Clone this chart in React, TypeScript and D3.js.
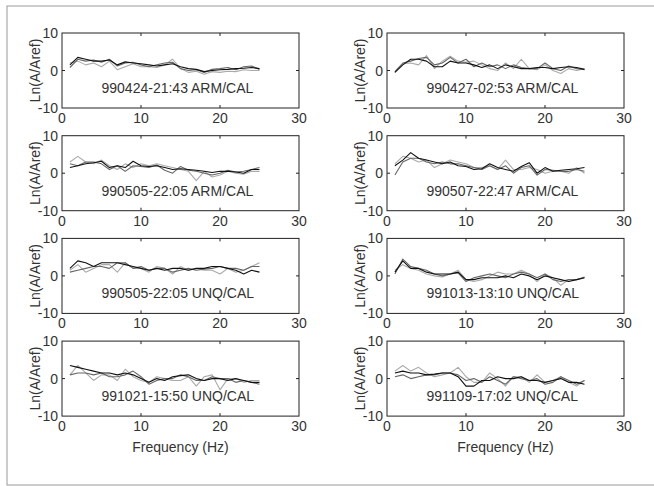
import React from "react";
import * as d3 from "d3";

const freq = d3.range(1, 26);

const titles = [
  "990424-21:43 ARM/CAL",
  "990427-02:53 ARM/CAL",
  "990505-22:05 ARM/CAL",
  "990507-22:47 ARM/CAL",
  "990505-22:05 UNQ/CAL",
  "991013-13:10 UNQ/CAL",
  "991021-15:50 UNQ/CAL",
  "991109-17:02 UNQ/CAL",
];

const xTicks = [0, 10, 20, 30];
const yTicks = [-10, 0, 10];

// each panel: [black, dark gray, light gray]
const p1 = [
  [1.5, 3.5, 3.0, 2.5, 2.5, 2.8, 1.5, 2.3, 2.0, 1.8, 1.5, 1.2, 1.5, 1.8, 1.0, 0.5, 0.3, -0.3, 0.0, 0.2, 0.3, 0.5, 0.6, 0.8, 0.5],
  [0.8, 3.0, 2.5, 2.8, 2.2, 3.0, 1.2, 2.0, 2.2, 1.5, 1.0, 1.5, 2.0, 2.2, 0.5, 0.0, 0.2, -0.5, 0.3, 0.5, 0.8, 0.2, 1.0, 1.2, 0.3],
  [2.0, 2.5, 1.5, 2.0, 1.0, 2.5, 0.2, 1.0, 1.8, 1.0, 1.0, 0.8, 1.5, 3.0, 0.5, -0.5, -0.2, -1.0, -0.3, -0.5, -0.2, -0.3, 0.2, 0.0, 0.0],
];
const p2 = [
  [-0.5, 1.5, 3.0, 3.0, 2.5, 1.0, 1.0, 2.5, 2.0, 2.0, 1.5, 0.8, 1.5, 0.5, 1.5, 1.0, 0.5, 0.5, 0.8, 0.8, 0.5, 0.8, 1.0, 0.8, 0.3],
  [-0.3, 2.0, 2.5, 3.2, 3.5, 1.5, 2.0, 3.5, 2.0, 3.0, 1.0, 2.0, 1.0, 1.5, 0.5, 1.5, 0.8, 0.5, 0.5, 2.0, 0.5, 0.0, 1.2, 0.5, 0.2],
  [-0.5, 1.8, 2.0, 1.5, 4.0, 0.5, 2.5, 3.8, 2.5, 2.2, 2.5, 1.5, 0.5, 0.0, 2.0, 0.5, 3.0, 0.5, 0.2, 1.5, 0.0, -0.8, 0.5, 0.0, 0.5],
];
const p3 = [
  [1.5, 2.0, 2.5, 2.8, 3.2, 1.5, 2.0, 1.5, 3.2, 2.0, 1.8, 2.0, 1.5, 1.0, 1.2, 1.0, 0.8, 0.5, 0.2, 0.5, 0.5, 0.3, 0.0, 1.0, 1.0],
  [2.5, 2.0, 3.0, 3.0, 2.5, 1.0, 2.0, 0.5, 2.0, 1.8, 1.5, 2.2, 0.8, 0.0, 1.8, 0.8, 0.5, 0.0, -0.5, 0.0, 0.8, 0.3, 0.5, 1.0, 1.5],
  [3.0, 4.5, 3.0, 2.5, 3.5, 2.0, 1.0, 2.5, 1.5, 2.5, 2.0, 2.5, 2.0, 1.5, 1.0, 0.5, -2.0, 0.5, -1.0, -0.5, 0.5, 0.0, -0.3, 0.5, 0.5],
];
const p4 = [
  [2.0, 3.5, 5.5, 4.0, 3.5, 3.0, 2.5, 3.0, 2.0, 1.8, 1.0, 1.2, 2.5, 1.5, 1.0, 0.5, 1.8, 2.8, 0.0, 1.5, 0.5, 0.8, 1.0, 1.2, 1.5],
  [-0.5, 3.0, 4.0, 4.0, 3.0, 2.5, 3.0, 2.5, 2.5, 2.0, 1.5, 1.0, 2.0, 1.0, 2.0, 0.0, 1.5, 2.0, -0.5, 1.0, 0.8, 0.5, 0.5, 1.0, 0.5],
  [2.5, 4.5, 4.0, 3.0, 3.5, 1.5, 2.5, 3.5, 3.0, 2.5, 1.5, 1.5, 2.0, 1.0, 3.5, 1.0, 1.0, 1.5, 1.0, 0.0, 0.5, 0.5, 0.0, 1.5, 0.0],
];
const p5 = [
  [2.0, 4.0, 3.5, 2.5, 3.5, 3.5, 3.5, 3.0, 2.5, 2.0, 1.5, 2.0, 1.5, 2.0, 2.0, 1.5, 2.0, 2.0, 2.5, 2.5, 2.0, 1.5, 0.5, 1.5, 1.0],
  [1.0, 1.5, 2.0, 2.5, 2.5, 2.0, 3.5, 3.5, 2.0, 2.5, 1.5, 2.0, 2.0, 1.0, 1.5, 2.0, 1.5, 1.8, 2.0, 2.5, 2.0, 2.0, 1.5, 2.5, 2.5],
  [1.5, 3.0, 1.0, 2.0, 3.0, 3.0, 1.0, 3.5, 2.0, 2.0, 1.0, 2.5, 2.0, 0.5, 2.5, 1.5, 2.0, 1.5, 1.5, 0.5, 2.0, 1.0, 1.5, 2.5, 3.5],
];
const p6 = [
  [1.0, 4.0, 2.0, 2.0, 1.0, 0.5, 0.5, 0.5, 1.0, -1.0, -1.0, -0.5, -0.5, -0.5, 0.0, -0.5, 0.5, 0.0, -1.0, 0.0, -0.5, -1.0, -1.5, -1.0, -0.5],
  [0.5, 4.5, 2.5, 2.0, 1.5, 0.5, 0.0, 0.5, 0.8, -1.5, -0.5, 0.0, 0.5, 0.0, -0.5, 0.5, 1.0, 0.5, -0.5, 0.5, -1.0, -1.5, -1.0, -1.0, -0.3],
  [1.5, 3.0, 2.0, 1.5, 0.5, 0.0, -0.3, 0.5, 1.5, -1.0, -1.5, -1.0, 0.0, 1.0, 0.5, 0.5, 1.5, 0.5, -1.5, 0.5, -0.5, -2.5, -1.0, -1.0, -0.5],
];
const p7 = [
  [3.5, 3.0, 2.5, 2.0, 1.5, 1.5, 1.0, 1.5, 1.0, 0.0, -1.0, 0.0, -0.5, 0.5, 0.8, 1.0, 0.0, -0.5, 0.0, 0.0, -0.5, 0.0, -0.5, -1.0, -1.0],
  [1.0, 1.5, 1.5, 1.0, 1.5, 0.5, 0.5, 1.0, 2.0, 0.5, -1.5, -0.5, 0.0, 0.0, 1.0, 0.5, -0.5, -0.5, 0.5, 0.0, 0.0, -1.0, -0.5, -1.0, -1.5],
  [1.0, 3.5, 1.5, -0.5, 1.0, 1.0, -0.5, 2.5, 0.5, -0.5, -1.0, 0.5, 0.0, -0.5, -0.5, 0.5, -2.0, 0.5, 1.0, -3.0, 0.0, 0.0, -1.0, -0.5, -0.5],
];
const p8 = [
  [1.5, 2.0, 1.5, 1.5, 1.0, 1.2, 1.5, 1.5, 0.5, -2.0, -2.0, -0.5, -0.5, 0.5, 0.0, 0.0, 0.5, -0.5, -0.5, -1.0, -0.5, 0.0, -1.0, -1.0, -1.5],
  [0.5, 1.0, 0.0, 0.5, 1.0, 1.0, 1.5, 1.5, 1.0, -0.5, 0.0, -1.0, 0.5, -0.5, -1.5, 0.5, 0.0, -0.5, 0.0, -1.5, -1.0, 0.5, -0.5, -1.5, -0.5],
  [2.0, 3.5, 2.0, 3.0, 1.5, 0.5, 1.0, 1.5, 3.0, 0.5, -1.0, -1.0, 1.5, 0.0, -2.0, 0.5, 0.5, -1.0, 1.0, -1.0, -0.5, 0.5, -1.0, -2.0, -0.5],
];

const panels = [p1, p2, p3, p4, p5, p6, p7, p8];
const seriesColors = ["#aaaaaa", "#666666", "#111111"];

const W = 654;
const H = 486;
const colX = [62, 387];
const boxW = 237;
const rowTop = [33, 135.7, 238.4, 341.1];
const boxH = 75;
const font = "'Liberation Sans', Arial, sans-serif";
const txt = "#333";

function Panel({ idx }: { idx: number }) {
  const col = idx % 2;
  const row = Math.floor(idx / 2);
  const left = colX[col];
  const top = rowTop[row];
  const x = d3.scaleLinear().domain([0, 30]).range([left, left + boxW]);
  const y = d3.scaleLinear().domain([-10, 10]).range([top + boxH, top]);
  const line = d3
    .line<number>()
    .x((_, i) => x(freq[i]))
    .y((d) => y(d));
  const data = panels[idx];
  const order = [2, 1, 0];
  const tl = 3;
  return (
    <g>
      {order.map((si) => (
        <path
          key={si}
          d={line(data[si]) || ""}
          fill="none"
          stroke={seriesColors[2 - si]}
          strokeWidth={1.1}
          strokeLinejoin="round"
        />
      ))}
      <rect x={left} y={top} width={boxW} height={boxH} fill="none" stroke="#222" strokeWidth={1} />
      {xTicks.slice(1, -1).map((t) => (
        <g key={"xt" + t}>
          <line x1={x(t)} x2={x(t)} y1={top + boxH} y2={top + boxH - tl} stroke="#222" />
          <line x1={x(t)} x2={x(t)} y1={top} y2={top + tl} stroke="#222" />
        </g>
      ))}
      {yTicks.slice(1, -1).map((t) => (
        <g key={"yt" + t}>
          <line x1={left} x2={left + tl} y1={y(t)} y2={y(t)} stroke="#222" />
          <line x1={left + boxW} x2={left + boxW - tl} y1={y(t)} y2={y(t)} stroke="#222" />
        </g>
      ))}
      {xTicks.map((t) => (
        <text key={"xl" + t} x={x(t)} y={top + boxH + 15} textAnchor="middle" fontSize={14} fontFamily={font} fill={txt}>
          {t}
        </text>
      ))}
      {yTicks.map((t) => (
        <text key={"yl" + t} x={left - 4} y={y(t) + 5} textAnchor="end" fontSize={14} fontFamily={font} fill={txt}>
          {t === -10 ? "-10" : t}
        </text>
      ))}
      <text x={x(5)} y={y(-6)} fontSize={14} fontFamily={font} fill={txt}>
        {titles[idx]}
      </text>
      <text
        transform={`translate(${left - 22},${top + boxH / 2}) rotate(-90)`}
        textAnchor="middle"
        fontSize={14}
        fontFamily={font}
        fill={txt}
      >
        Ln(A/Aref)
      </text>
      {row === 3 && (
        <text x={x(15)} y={top + boxH + 36} textAnchor="middle" fontSize={14} fontFamily={font} fill={txt}>
          Frequency (Hz)
        </text>
      )}
    </g>
  );
}

export default function App() {
  return (
    <svg
      width={W}
      height={H}
      style={{ position: "absolute", left: 0, top: 0, background: "#fff" }}
    >
      <rect x={0} y={0} width={W} height={H} fill="#fff" />
      <rect x={7} y={6} width={W + 20} height={479} fill="none" stroke="#999" strokeWidth={1} />
      {panels.map((_, i) => (
        <Panel key={i} idx={i} />
      ))}
    </svg>
  );
}
